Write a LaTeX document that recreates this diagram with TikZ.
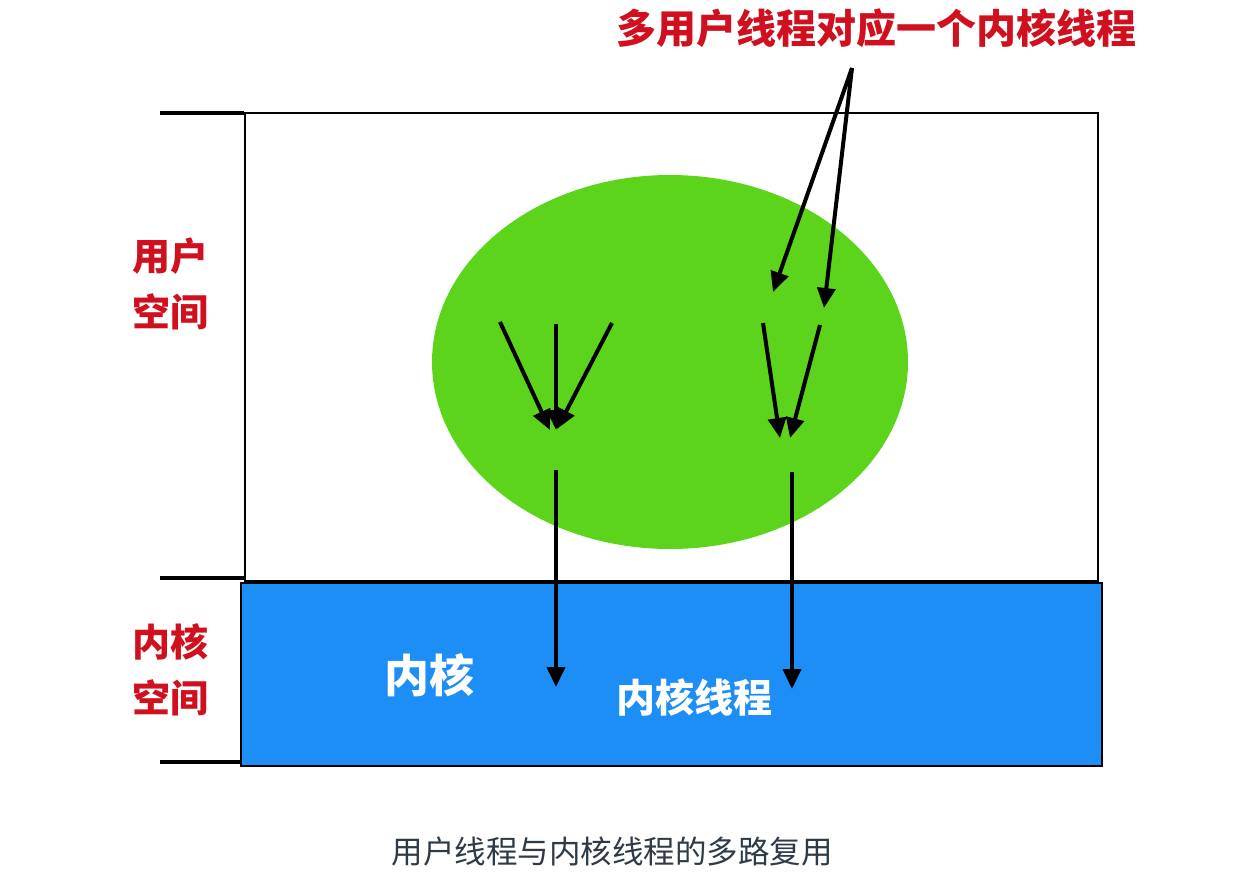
\documentclass[tikz,border=0pt]{standalone}
\usepackage{fontspec}
\setmainfont{Noto Sans CJK SC}
\newfontfamily\cjk{Noto Sans CJK SC}
\usetikzlibrary{arrows.meta}
\definecolor{redlbl}{HTML}{D0101E}
\definecolor{blueK}{HTML}{1D8EF6}
\definecolor{greenU}{HTML}{5DD41C}
\definecolor{capt}{HTML}{2E3A48}
\tikzset{
  arr/.style={line width=4pt,-{Triangle[length=20pt,width=18pt]}},
  redtxt/.style={text=redlbl,font=\cjk\bfseries\fontsize{36}{44}\selectfont,align=center,inner sep=0pt},
  whtxt/.style={text=white,font=\cjk\bfseries,inner sep=0pt},
  tick/.style={line width=3.5pt}
}
\begin{document}
\begin{tikzpicture}[x=1pt,y=-1pt]
\useasboundingbox (0,0) rectangle (1260,882);
% user space box
\node[draw=black,line width=2pt,minimum width=853pt,minimum height=468pt,inner sep=0pt,anchor=north west] (user) at (244,112) {};
% kernel box
\node[draw=black,line width=2pt,fill=blueK,minimum width=861pt,minimum height=183pt,inner sep=0pt,anchor=north west] (kern) at (240,582) {};
% ellipse
\fill[greenU] (670,362) ellipse [x radius=238pt, y radius=187pt];
\node[inner sep=0pt] (ell) at (670,362) {};
% ticks
\coordinate (t1a) at (160,113); \coordinate (t1b) at (244,113);
\coordinate (t2a) at (160,578); \coordinate (t2b) at (244,578);
\coordinate (t3a) at (160,762); \coordinate (t3b) at (242,762);
\draw[tick] (t1a) -- (t1b);
\draw[tick] (t2a) -- (t2b);
\draw[tick] (t3a) -- (t3b);
% labels
\node[redtxt,font=\cjk\bfseries\fontsize{38}{56}\selectfont] (ulbl) at (170,284) {用户\\空间};
\node[redtxt,font=\cjk\bfseries\fontsize{38}{56}\selectfont] (klbl) at (170,670) {内核\\空间};
\node[redtxt,font=\cjk\bfseries\fontsize{40}{44}\selectfont] (title) at (876,28) {多用户线程对应一个内核线程};
\node[whtxt,font=\cjk\bfseries\fontsize{45}{50}\selectfont] (kn) at (429,675) {内核};
\node[whtxt,font=\cjk\bfseries\fontsize{39}{44}\selectfont] (kt) at (694,697) {内核线程};
\node[inner sep=0pt,text=capt,font=\cjk\fontsize{31.5}{36}\selectfont] (cap) at (612,852) {用户线程与内核线程的多路复用};
% arrow coordinates
\coordinate (src) at (852,68);
\coordinate (p1) at (773,292);
\coordinate (p2) at (824,308);
\coordinate (a1s) at (500,322); \coordinate (a1e) at (550,430);
\coordinate (a2s) at (556,324); \coordinate (a2e) at (556,430);
\coordinate (a3s) at (612,323); \coordinate (a3e) at (557,429);
\coordinate (b1s) at (763,323); \coordinate (b1e) at (780,438);
\coordinate (b2s) at (820,325); \coordinate (b2e) at (790,438);
\coordinate (l1s) at (556,470); \coordinate (l1e) at (556,687);
\coordinate (l2s) at (792,472); \coordinate (l2e) at (792,689);
\draw[arr] (src) -- (p1);
\draw[arr] (src) -- (p2);
\draw[arr] (a1s) -- (a1e);
\draw[arr] (a2s) -- (a2e);
\draw[arr] (a3s) -- (a3e);
\draw[arr] (b1s) -- (b1e);
\draw[arr] (b2s) -- (b2e);
\draw[arr] (l1s) -- (l1e);
\draw[arr] (l2s) -- (l2e);
\end{tikzpicture}
\end{document}
